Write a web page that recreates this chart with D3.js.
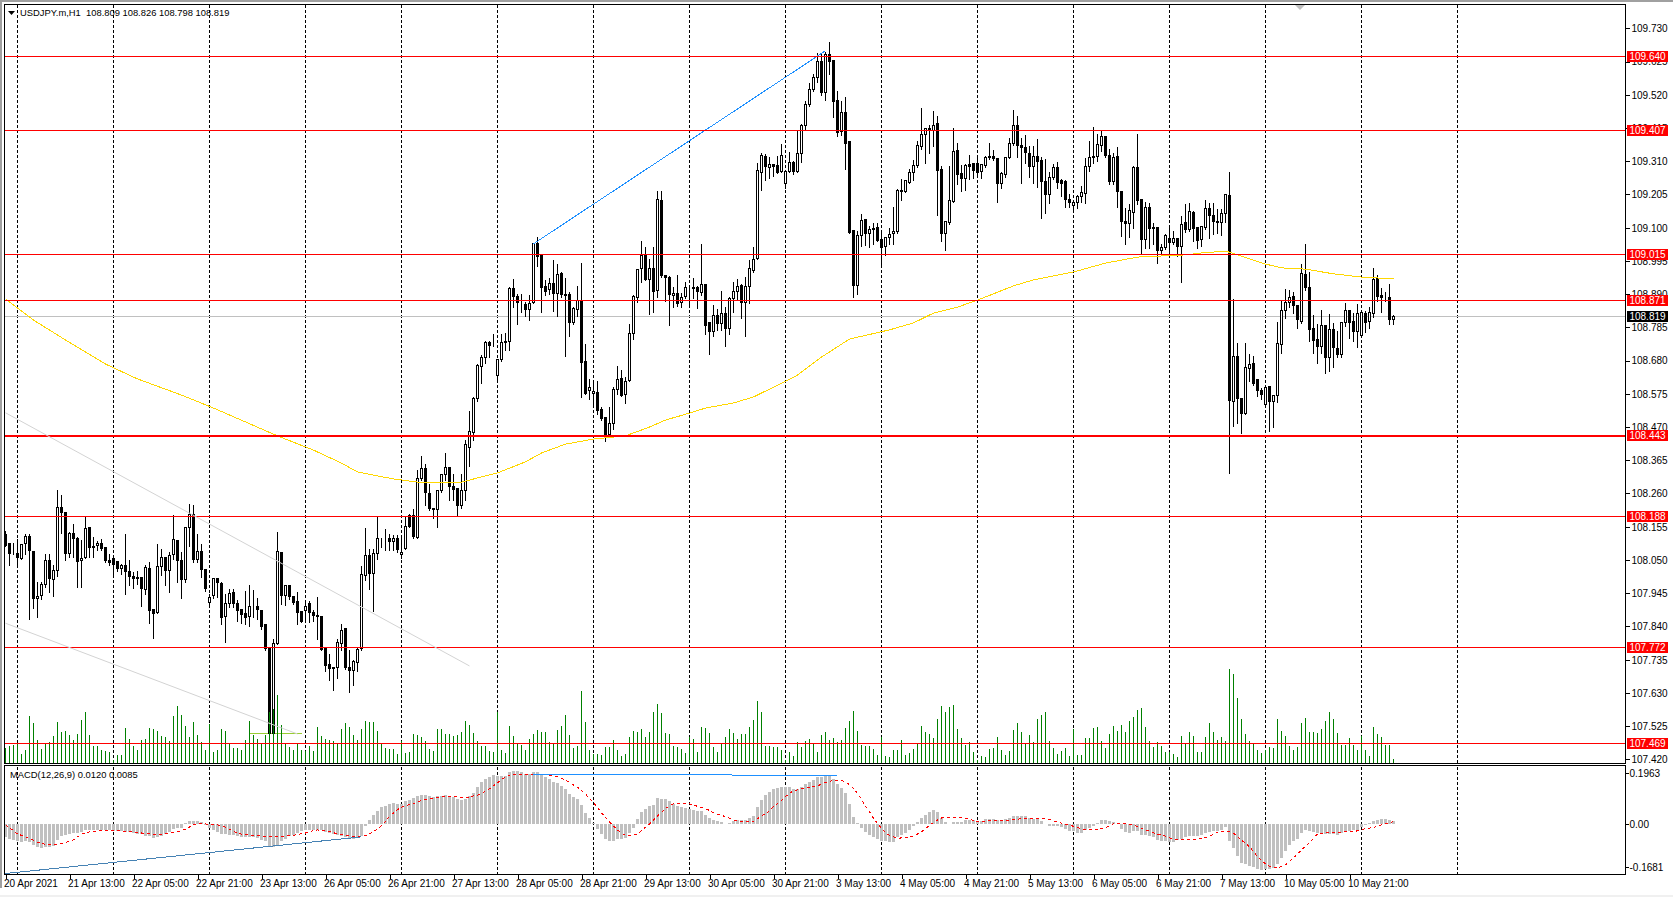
<!DOCTYPE html>
<html><head><meta charset="utf-8">
<script src="https://cdn.jsdelivr.net/npm/d3@7/dist/d3.min.js"></script>
<style>
html,body{margin:0;padding:0;background:#fff;overflow:hidden}
svg{display:block}
text{font-family:"Liberation Sans",Arial,sans-serif;font-size:10px;fill:#000}
text.head{font-size:9.4px}
</style></head><body>
<svg id="c" width="1673" height="897"></svg>
<script>
// ---------- data (open, high, low, close per hourly bar) ----------
const candlesA=[[108.129,108.142,108.097,108.097],[108.102,108.106,108.037,108.069],[108.071,108.105,108.069,108.070],[108.071,108.118,108.029,108.058],[108.055,108.103,108.055,108.099],[108.102,108.134,108.071,108.125],[108.125,108.134,107.865,108.079],[108.078,108.078,107.899,107.928],[107.928,107.982,107.871,107.934],[107.937,107.982,107.929,107.971],
[107.973,108.071,107.966,108.049],[108.049,108.071,107.950,107.990],[107.988,108.034,107.939,108.017],[108.017,108.273,108.000,108.216],[108.216,108.258,108.136,108.199],[108.201,108.201,108.052,108.070],[108.070,108.140,108.061,108.135],[108.135,108.166,108.061,108.117],[108.118,108.124,107.966,108.045],[108.049,108.115,107.966,108.055],
[108.057,108.187,108.057,108.150],[108.153,108.153,108.061,108.089],[108.093,108.124,108.061,108.089],[108.095,108.113,108.084,108.103],[108.103,108.118,108.084,108.086],[108.088,108.088,108.045,108.048],[108.049,108.071,108.036,108.041],[108.053,108.055,108.008,108.034],[108.046,108.046,108.018,108.022],[108.023,108.039,108.006,108.033],
[108.033,108.134,107.945,108.012],[108.014,108.050,107.971,107.997],[107.998,108.013,107.963,107.991],[107.995,108.016,107.976,107.991],[107.996,107.997,107.906,107.959],[107.957,108.034,107.945,108.025],[108.022,108.045,107.852,107.890],[107.892,107.894,107.805,107.881],[107.885,108.103,107.885,108.030],[108.030,108.087,108.003,108.058],
[108.058,108.058,107.971,108.016],[108.017,108.076,107.950,108.065],[108.067,108.194,108.055,108.115],[108.113,108.113,107.982,108.047],[108.047,108.076,107.931,107.988],[107.988,108.157,107.982,108.153],[108.153,108.227,108.097,108.194],[108.194,108.224,108.045,108.051],[108.051,108.134,108.045,108.076],[108.076,108.103,107.997,108.021]];
const candlesB=[[108.021,108.023,107.952,107.959],[107.915,107.945,107.903,107.932],[107.937,107.992,107.931,107.992],[107.992,107.992,107.936,107.978],[107.976,107.982,107.850,107.868],[107.871,107.945,107.792,107.913],[107.913,107.960,107.903,107.945],[107.948,107.960,107.903,107.913],[107.913,107.924,107.860,107.889],[107.892,107.894,107.853,107.877],
[107.881,107.952,107.850,107.868],[107.871,107.973,107.843,107.904],[107.904,107.955,107.871,107.903],[107.904,107.931,107.866,107.893],[107.891,107.892,107.834,107.839],[107.847,107.847,107.766,107.771],[107.771,107.771,107.491,107.502],[107.502,107.803,107.495,107.787],[107.787,108.140,107.787,108.078],[108.075,108.075,107.913,107.937],
[107.937,107.973,107.908,107.968],[107.968,107.971,107.929,107.933],[107.936,107.939,107.913,107.917],[107.919,107.950,107.848,107.884],[107.886,107.887,107.855,107.857],[107.890,107.924,107.860,107.904],[107.913,107.921,107.855,107.884],[107.883,107.892,107.858,107.874],[107.875,107.934,107.803,107.871],[107.870,107.870,107.766,107.768],
[107.770,107.771,107.700,107.715],[107.721,107.753,107.671,107.707],[107.711,107.711,107.639,107.707],[107.710,107.803,107.679,107.790],[107.786,107.848,107.766,107.828],[107.832,107.834,107.708,107.710],[107.711,107.766,107.634,107.700],[107.700,107.734,107.655,107.729],[107.727,107.776,107.700,107.766],[107.769,108.032,107.766,108.005],
[108.002,108.153,107.987,108.065],[108.065,108.087,107.960,108.006],[108.008,108.087,107.889,108.071],[108.071,108.187,108.055,108.118],[108.118,108.122,108.092,108.119],[108.118,108.148,108.084,108.119],[108.118,108.134,108.084,108.108],[108.108,108.129,108.082,108.118],[108.118,108.129,108.078,108.082],[108.067,108.129,108.058,108.073]];
const candlesC=[[108.085,108.192,108.085,108.156],[108.189,108.197,108.157,108.157],[108.190,108.213,108.122,108.123],[108.121,108.336,108.121,108.308],[108.306,108.379,108.303,108.340],[108.340,108.355,108.224,108.264],[108.261,108.292,108.208,108.211],[108.213,108.213,108.184,108.209],[108.210,108.268,108.155,108.268],[108.269,108.324,108.266,108.321],
[108.320,108.389,108.303,108.343],[108.343,108.343,108.242,108.282],[108.283,108.324,108.240,108.274],[108.276,108.276,108.195,108.222],[108.221,108.324,108.216,108.269],[108.269,108.431,108.240,108.416],[108.406,108.521,108.347,108.456],[108.453,108.566,108.430,108.561],[108.559,108.672,108.554,108.663],[108.661,108.698,108.611,108.691],
[108.691,108.742,108.674,108.738],[108.738,108.742,108.693,108.729],[108.729,108.766,108.727,108.729],[108.634,108.683,108.624,108.683],[108.683,108.766,108.680,108.737],[108.741,108.769,108.714,108.737],[108.741,108.914,108.714,108.909],[108.909,108.940,108.851,108.882],[108.883,108.893,108.796,108.863],[108.866,108.893,108.835,108.867],
[108.856,108.867,108.821,108.840],[108.840,108.888,108.809,108.861],[108.863,109.051,108.863,109.049],[109.049,109.072,108.979,109.009],[109.015,109.015,108.835,108.912],[108.915,108.935,108.888,108.898],[108.905,108.943,108.893,108.924],[108.922,108.998,108.838,108.892],[108.891,108.988,108.824,108.953],[108.954,108.961,108.882,108.888],
[108.890,108.943,108.695,108.886],[108.888,108.898,108.758,108.800],[108.800,108.851,108.796,108.843],[108.842,108.916,108.824,108.869],[108.869,108.991,108.566,108.674],[108.678,108.733,108.575,108.577],[108.586,108.624,108.561,108.596],[108.577,108.614,108.545,108.583],[108.580,108.616,108.512,108.522],[108.524,108.535,108.493,108.496]];
const candlesD=[[108.499,108.501,108.427,108.445],[108.445,108.535,108.440,108.482],[108.480,108.598,108.466,108.590],[108.590,108.663,108.577,108.621],[108.624,108.653,108.569,108.570],[108.573,108.630,108.548,108.613],[108.617,108.798,108.617,108.766],[108.766,108.888,108.751,108.883],[108.880,108.969,108.867,108.969],[108.971,109.060,108.930,109.013],
[109.014,109.042,108.935,108.937],[108.937,109.001,108.828,108.972],[108.972,109.040,108.835,108.898],[108.902,109.216,108.882,109.188],[109.185,109.216,108.946,108.949],[108.949,108.953,108.870,108.943],[108.943,108.949,108.793,108.888],[108.886,108.914,108.851,108.893],[108.893,108.951,108.853,108.859],[108.863,108.895,108.851,108.880],
[108.882,108.930,108.880,108.912],[108.910,108.916,108.851,108.911],[108.909,108.943,108.880,108.910],[108.912,108.916,108.849,108.898],[108.895,109.051,108.888,108.921],[108.921,108.921,108.764,108.791],[108.799,108.803,108.701,108.771],[108.771,108.856,108.758,108.823],[108.823,108.846,108.777,108.797],[108.797,108.900,108.779,108.829],
[108.830,108.851,108.727,108.781],[108.781,108.882,108.764,108.876],[108.876,108.929,108.835,108.899],[108.898,108.938,108.877,108.915],[108.918,108.924,108.815,108.862],[108.863,108.946,108.758,108.914],[108.914,109.000,108.863,108.972],[108.965,109.040,108.960,109.000],[109.003,109.306,109.003,109.280],[109.275,109.336,109.222,109.327],
[109.324,109.334,109.253,109.292],[109.290,109.324,109.259,109.301],[109.301,109.303,109.264,109.292],[109.295,109.327,109.275,109.275],[109.278,109.365,109.276,109.327],[109.239,109.277,109.228,109.277],[109.279,109.342,109.276,109.305],[109.306,109.313,109.270,109.279],[109.279,109.407,109.276,109.334],[109.334,109.428,109.310,109.422]];
const candlesE=[[109.422,109.502,109.409,109.488],[109.488,109.560,109.486,109.536],[109.536,109.586,109.534,109.574],[109.576,109.654,109.563,109.625],[109.626,109.649,109.521,109.526],[109.528,109.658,109.504,109.647],[109.647,109.688,109.588,109.626],[109.628,109.631,109.452,109.500],[109.502,109.534,109.391,109.402],[109.404,109.502,109.395,109.463],
[109.465,109.515,109.288,109.367],[109.373,109.376,109.085,109.086],[109.091,109.095,108.883,108.918],[108.918,109.091,108.891,109.076],[109.074,109.146,109.044,109.123],[109.126,109.126,109.047,109.083],[109.083,109.107,109.039,109.094],[109.097,109.115,109.049,109.093],[109.100,109.115,109.058,109.060],[109.063,109.086,108.981,109.038],
[109.041,109.070,109.016,109.068],[109.068,109.102,109.049,109.078],[109.081,109.167,109.049,109.088],[109.089,109.224,109.086,109.218],[109.217,109.255,109.189,109.213],[109.215,109.249,109.213,109.249],[109.244,109.286,109.244,109.274],[109.273,109.315,109.251,109.296],[109.296,109.374,109.294,109.359],[109.358,109.479,109.349,109.394],
[109.394,109.418,109.307,109.413],[109.410,109.425,109.339,109.412],[109.407,109.471,109.360,109.422],[109.428,109.455,109.142,109.281],[109.283,109.297,109.058,109.083],[109.083,109.123,109.032,109.119],[109.116,109.297,109.112,109.185],[109.184,109.416,109.184,109.340],[109.343,109.370,109.241,109.268],[109.270,109.299,109.216,109.256],
[109.256,109.302,109.220,109.296],[109.299,109.331,109.255,109.294],[109.302,109.302,109.257,109.281],[109.302,109.328,109.268,109.273],[109.276,109.302,109.258,109.299],[109.296,109.327,109.294,109.323],[109.324,109.368,109.320,109.321],[109.324,109.347,109.315,109.318],[109.318,109.318,109.183,109.238],[109.238,109.276,109.228,109.270]];
const candlesF=[[109.267,109.325,109.263,109.322],[109.322,109.386,109.321,109.365],[109.365,109.473,109.362,109.422],[109.422,109.455,109.325,109.359],[109.360,109.386,109.244,109.353],[109.354,109.395,109.307,109.336],[109.334,109.360,109.263,109.292],[109.292,109.360,109.244,109.325],[109.325,109.383,109.231,109.310],[109.312,109.325,109.133,109.246],
[109.246,109.318,109.149,109.206],[109.206,109.276,109.181,109.260],[109.259,109.304,109.255,109.290],[109.290,109.310,109.228,109.243],[109.249,109.255,109.202,109.241],[109.245,109.253,109.167,109.189],[109.189,109.207,109.167,109.181],[109.171,109.188,109.152,109.179],[109.181,109.205,109.163,109.199],[109.198,109.234,109.184,109.210],
[109.209,109.321,109.178,109.294],[109.292,109.376,109.281,109.321],[109.326,109.420,109.307,109.321],[109.325,109.397,109.313,109.363],[109.360,109.409,109.344,109.387],[109.388,109.391,109.325,109.327],[109.327,109.351,109.241,109.246],[109.247,109.339,109.239,109.323],[109.325,109.357,109.168,109.213],[109.214,109.214,109.076,109.118],
[109.120,109.165,109.049,109.112],[109.112,109.176,109.073,109.154],[109.149,109.297,109.102,109.290],[109.290,109.397,109.176,109.186],[109.189,109.189,109.023,109.063],[109.063,109.183,109.036,109.164],[109.164,109.178,109.036,109.096],[109.101,109.115,109.049,109.096],[109.100,109.100,108.991,109.028],[109.028,109.049,109.023,109.037],
[109.036,109.081,109.035,109.076],[109.065,109.102,109.016,109.054],[109.054,109.091,109.049,109.065],[109.065,109.068,109.012,109.041]];
const candlesG=[[109.042,109.139,108.929,109.110],[109.116,109.176,109.087,109.093],[109.093,109.179,109.090,109.151],[109.149,109.155,109.060,109.096],[109.100,109.102,109.036,109.060],[109.064,109.108,109.044,109.105],[109.102,109.189,109.097,109.159],[109.160,109.181,109.068,109.137],[109.138,109.181,109.083,109.118],[109.120,109.160,109.084,109.115],
[109.115,109.162,109.079,109.145],[109.145,109.205,109.118,109.205],[109.202,109.278,108.325,108.553],[108.551,108.876,108.476,108.693],[108.694,108.737,108.483,108.559],[108.560,108.560,108.452,108.512],[108.512,108.737,108.512,108.658],[108.654,108.702,108.618,108.668],[108.671,108.696,108.605,108.607],[108.620,108.620,108.571,108.584],
[108.585,108.595,108.560,108.574],[108.540,108.600,108.539,108.595],[108.598,108.602,108.458,108.550],[108.551,108.574,108.473,108.571],[108.569,108.804,108.550,108.734],[108.731,108.869,108.704,108.838],[108.838,108.908,108.815,108.863],[108.862,108.904,108.850,108.879],[108.882,108.897,108.831,108.853],[108.855,108.855,108.786,108.809],
[108.802,108.987,108.799,108.955],[108.952,109.050,108.904,108.912],[108.912,108.962,108.744,108.777],[108.781,108.826,108.704,108.745],[108.748,108.797,108.673,108.723],[108.723,108.842,108.705,108.791],[108.792,108.792,108.641,108.689],[108.689,108.829,108.650,108.779],[108.779,108.799,108.662,108.720],[108.718,108.776,108.692,108.698],
[108.698,108.802,108.694,108.800],[108.799,108.864,108.790,108.838],[108.839,108.839,108.752,108.799],[108.803,108.831,108.744,108.771],[108.771,108.860,108.726,108.830],[108.758,108.839,108.755,108.832],[108.830,108.837,108.771,108.801],[108.805,108.850,108.784,108.832],[108.829,108.974,108.818,108.937],[108.939,108.952,108.871,108.884],
[108.887,108.912,108.836,108.878],[108.879,108.897,108.869,108.880],[108.880,108.924,108.797,108.809],[108.809,108.826,108.798,108.819]];
// tick volume per bar
const volumes=[45,50,53,57,28,40,142,121,70,43,60,62,80,124,94,96,85,70,87,130,152,85,50,52,40,35,33,10,25,25,106,72,50,40,70,73,105,102,95,82,78,65,142,170,145,110,78,124,85,62,38,118,32,38,102,95,60,44,45,38,68,125,85,72,60,85,154,162,204,115,60,47,40,57,40,35,50,35,107,80,73,70,67,60,103,119,107,85,68,103,125,122,123,95,58,45,42,42,28,65,30,32,88,85,77,65,43,35,103,103,88,87,80,83,92,125,115,90,65,52,52,37,32,153,40,30,110,82,60,55,40,72,88,100,93,92,62,60,100,
111,144,84,45,51,216,123,39,27,27,24,48,48,69,39,21,27,78,96,93,102,78,93,153,177,150,90,87,51,48,42,30,78,72,33,108,105,90,48,33,57,78,102,90,72,87,87,108,129,186,153,51,51,48,48,39,9,33,21,63,48,66,72,57,33,84,93,69,75,63,69,105,126,156,96,54,51,51,42,24,79,21,18,39,39,69,24,30,42,60,111,93,87,75,132,171,153,168,174,102,75,54,63,33,10,
22,19,43,46,79,40,25,37,100,121,94,61,85,64,133,145,154,67,46,28,37,46,22,103,25,25,76,76,106,109,67,46,88,112,97,115,94,127,139,160,166,109,67,49,64,52,34,34,28,19,82,61,94,82,34,34,79,121,94,70,79,67,283,268,196,133,88,67,60,40,31,40,49,46,133,97,82,52,40,49,121,136,94,94,91,103,127,154,133,91,55,55,76,55,40,82,40,22,109,88,79,55,55,13];
// MACD histogram and signal, in thousandths
const macdMain=[-51,-59,-64,-68,-71,-68,-72,-82,-91,-92,-90,-89,-85,-62,-46,-45,-41,-37,-35,-33,-26,-23,-23,-23,-24,-24,-26,-27,-27,-28,-31,-33,-36,-39,-41,-46,-49,-55,-51,-46,-39,-31,-21,-17,-15,3,12,12,12,5,-4,-17,-23,-33,-39,-40,-42,-45,-49,-51,-51,-53,-53,-54,-62,-68,-87,-90,-82,-68,-58,-49,-42,-36,-30,-24,-23,-23,-24,-26,-32,-36,-40,-42,-46,-51,-56,-59,-55,-46,-10,15,35,47,64,69,76,80,76,76,86,92,99,108,112,112,105,103,105,108,112,108,103,96,90,96,105,118,141,159,172,180,189,185,185,185,198,204,204,198,193,193,199,198,189,180,172,159,157,
145,134,114,104,95,72,41,22,3,-19,-39,-58,-67,-67,-59,-58,-54,-35,-15,18,45,56,68,72,99,96,95,87,76,68,64,60,56,53,49,49,33,22,14,10,6,-3,3,10,14,14,14,22,30,64,91,110,122,134,139,141,141,141,132,134,141,153,161,168,180,180,184,187,172,153,137,118,76,26,3,-17,-32,-44,-51,-59,-67,-68,-71,-69,-50,-44,-36,-24,-9,6,22,33,45,53,45,22,6,-3,6,6,6,13,14,14,10,
10,18,18,18,14,10,18,22,30,30,30,30,22,18,18,10,-3,-8,-8,-9,-13,-21,-28,-28,-36,-36,-24,-17,-9,4,14,14,10,8,0,-21,-32,-36,-28,-28,-44,-44,-48,-51,-63,-67,-67,-71,-71,-63,-59,-51,-48,-48,-46,-44,-36,-32,-28,-28,-24,-13,-67,-94,-125,-152,-155,-163,-167,-175,-178,-175,-175,-171,-155,-132,-105,-82,-67,-59,-36,-24,-28,-32,-36,-40,-40,-40,-40,-44,-37,-31,-27,-24,-23,-12,-4,1,10,15,18,18,14,12];
const macdSignal=[-4,-17,-27,-40,-45,-51,-58,-64,-72,-76,-80,-81,-81,-80,-76,-74,-67,-62,-51,-40,-36,-32,-30,-27,-26,-26,-26,-26,-27,-28,-30,-31,-32,-33,-36,-37,-39,-41,-42,-41,-39,-36,-33,-30,-27,-21,-13,-5,-1,0,-1,-3,-3,-5,-8,-13,-21,-30,-36,-40,-42,-44,-45,-46,-48,-50,-51,-51,-51,-50,-49,-46,-45,-42,-39,-36,-31,-26,-24,-26,-28,-31,-35,-39,-41,-45,-48,-50,-51,-50,-46,-39,-30,-21,-8,9,28,41,54,63,69,74,78,83,89,92,95,98,100,103,105,104,104,103,100,99,101,107,109,116,125,134,146,157,170,180,186,189,190,191,191,191,191,190,189,189,186,182,180,
175,168,159,149,140,127,114,96,81,63,42,24,6,-9,-24,-37,-45,-47,-45,-39,-27,-14,-1,14,30,44,58,69,76,77,77,77,76,71,67,63,58,51,42,37,32,27,21,14,10,9,9,9,9,19,30,37,50,65,78,89,104,117,127,130,134,136,140,144,145,153,159,163,166,167,167,161,150,136,117,94,68,46,21,1,-18,-35,-45,-51,-56,-55,-54,-53,-47,-40,-32,-19,-6,4,14,22,24,24,24,24,23,21,17,12,8,
9,10,12,13,13,13,14,14,15,17,19,19,19,19,19,19,19,17,10,8,1,-3,-6,-10,-15,-21,-23,-23,-22,-21,-18,-15,-9,0,1,0,-1,-3,-4,-12,-18,-24,-28,-35,-40,-44,-48,-55,-59,-62,-62,-60,-60,-60,-59,-58,-53,-48,-40,-33,-30,-28,-31,-37,-50,-63,-76,-89,-108,-127,-143,-155,-164,-169,-171,-164,-159,-145,-131,-117,-101,-87,-73,-56,-40,-37,-36,-35,-35,-33,-32,-32,-32,-32,-27,-24,-18,-17,-15,-10,-5,-1,3,8];
// 200-period moving average
const maBars=[0,7,15,25,33,44,52,68,77,84,88,92,97,103,114,118,123,130,134,140,147,155,161,165,171,175,182,187,192,198,204,211,221,227,232,238,243,252,257,267,275,283,288,295,299,305,308,315,319,325,332,339,347];
const maValues=[108.875,108.808,108.745,108.669,108.622,108.571,108.530,108.442,108.397,108.356,108.328,108.318,108.306,108.296,108.296,108.309,108.325,108.360,108.388,108.416,108.432,108.442,108.470,108.492,108.514,108.530,108.546,108.565,108.596,108.634,108.691,108.748,108.777,108.799,108.830,108.849,108.871,108.916,108.935,108.960,108.988,109.007,109.010,109.014,109.020,109.026,109.014,108.985,108.973,108.969,108.954,108.944,108.938];
const levels=[109.640,109.407,109.015,108.871,108.443,108.188,107.772,107.469];
const priceTicks=[109.730,109.625,109.520,109.415,109.310,109.205,109.100,108.995,108.890,108.785,108.680,108.575,108.470,108.365,108.260,108.155,108.050,107.945,107.840,107.735,107.630,107.525,107.420];
const timeLabels=["20 Apr 2021","21 Apr 13:00","22 Apr 05:00","22 Apr 21:00","23 Apr 13:00","26 Apr 05:00","26 Apr 21:00","27 Apr 13:00","28 Apr 05:00","28 Apr 21:00","29 Apr 13:00","30 Apr 05:00","30 Apr 21:00","3 May 13:00","4 May 05:00","4 May 21:00","5 May 13:00","6 May 05:00","6 May 21:00","7 May 13:00","10 May 05:00","10 May 21:00"];
const lastPrice=108.819;
const header="USDJPY.m,H1  108.809 108.826 108.798 108.819";
const macdHeader="MACD(12,26,9) 0.0120 0.0085";
const macdTicks=[[196.3,"0.1963"],[0,"0.00"],[-168.1,"-0.1681"]];
const candles=[...candlesA,...candlesB,...candlesC,...candlesD,...candlesE,...candlesF,...candlesG];

// ---------- scales ----------
const L=4.5,R=1625.5,T=4.5,B=763.5,MT=766.5,MB=874.5;
const x=d3.scaleLinear().domain([0,347]).range([5.5,1393.5]);
const y=d3.scaleLinear().domain([107.42,109.73]).range([759.3,28.3]);
const yVol=d3.scaleLinear().domain([0,300]).range([763,663]);
const yMacd=d3.scaleLinear().domain([-168.1,196.3]).range([867.3,772.7]);
const snap=v=>Math.round(v-0.5)+0.5;

const svg=d3.select("#c");
svg.append("rect").attr("width",1673).attr("height",897).attr("fill","#fff");
// window chrome
svg.append("rect").attr("width",1673).attr("height",2).attr("fill","#a0a0a0");
svg.append("rect").attr("width",2).attr("height",888).attr("fill","#a0a0a0");
svg.append("rect").attr("y",895).attr("width",1673).attr("height",2).attr("fill","#f0f0f0");

const crisp=svg.append("g").attr("shape-rendering","crispEdges");
// daily grid
const gridBars=d3.range(3,364,24);
[[T,B],[MT,MB]].forEach(([a,b])=>{
 crisp.append("g").selectAll("line").data(gridBars).join("line")
  .attr("x1",x).attr("x2",x).attr("y1",a).attr("y2",b)
  .attr("stroke","#000").attr("stroke-dasharray","3,2");
});
// light channels
const thin=svg.append("g").attr("fill","none");
const chanA=[[0,108.515,],[116,107.715]], chanB=[[0,107.85],[73,107.5]];
[chanA,chanB].forEach(c=>thin.append("line")
  .attr("x1",x(c[0][0])).attr("y1",y(c[0][1])).attr("x2",x(c[1][0])).attr("y2",y(c[1][1]))
  .attr("stroke","#d3d3d3"));
crisp.append("line").attr("x1",x(61)).attr("x2",x(74)).attr("y1",snap(y(107.502))).attr("y2",snap(y(107.502))).attr("stroke","#9acd32");

// current price line
crisp.append("line").attr("x1",L).attr("x2",R).attr("y1",snap(y(lastPrice))).attr("y2",snap(y(lastPrice))).attr("stroke","#c0c0c0");

// candles
const cg=crisp.append("g");
cg.selectAll("line").data(candles).join("line")
 .attr("x1",(d,i)=>x(i)).attr("x2",(d,i)=>x(i))
 .attr("y1",d=>snap(y(d[1]))).attr("y2",d=>snap(y(d[2]))+1).attr("stroke","#000");
cg.selectAll("rect").data(candles).join("rect")
 .attr("x",(d,i)=>x(i)-1)
 .attr("width",2)
 .attr("y",d=>snap(y(Math.max(d[0],d[3]))))
 .attr("height",d=>Math.max(0,snap(y(Math.min(d[0],d[3])))-snap(y(Math.max(d[0],d[3])))))
 .attr("fill",d=>d[3]>=d[0]?"#fff":"#000").attr("stroke","#000");

// volumes
crisp.append("g").selectAll("line").data(volumes).join("line")
 .attr("x1",(d,i)=>x(i)).attr("x2",(d,i)=>x(i))
 .attr("y1",yVol(0)).attr("y2",d=>yVol(d)).attr("stroke","#008000");

// moving average
crisp.append("path").datum(maBars.map((b,i)=>[b,maValues[i]]))
 .attr("fill","none").attr("stroke","#ffd700").attr("stroke-width",1)
 .attr("d",d3.line().x(d=>x(d[0])).y(d=>y(d[1])));

// trend line on price
crisp.append("line").attr("x1",x(132)).attr("y1",y(109.049)).attr("x2",x(205)).attr("y2",y(109.659)).attr("stroke","#1e90ff");

// horizontal levels
crisp.append("g").selectAll("line").data(levels).join("line")
 .attr("x1",L).attr("x2",R).attr("y1",d=>snap(y(d))).attr("y2",d=>snap(y(d)))
 .attr("stroke","#f00").attr("stroke-width",d=>d===108.443?2:1);

// MACD pane
crisp.append("g").selectAll("rect").data(macdMain).join("rect")
 .attr("x",(d,i)=>x(i)-1.5).attr("width",3)
 .attr("y",d=>yMacd(Math.max(d,0))).attr("height",d=>Math.abs(yMacd(d)-yMacd(0)))
 .attr("fill","#c0c0c0");
crisp.append("path").datum(macdSignal).attr("fill","none").attr("stroke","#f00").attr("stroke-dasharray","3,3")
 .attr("d",d3.line().x((d,i)=>x(i)).y(d=>yMacd(d)));
crisp.append("line").attr("x1",x(0)).attr("y1",yMacd(-192)).attr("x2",x(89)).attr("y2",yMacd(-51)).attr("stroke","#4682b4");
crisp.append("line").attr("x1",x(132)).attr("y1",yMacd(190)).attr("x2",x(208)).attr("y2",yMacd(186)).attr("stroke","#1e90ff");

// frames
const fr=crisp.append("g").attr("fill","none").attr("stroke","#000");
fr.append("rect").attr("x",L).attr("y",T).attr("width",R-L).attr("height",B-T);
fr.append("rect").attr("x",L).attr("y",MT-1).attr("width",R-L).attr("height",MB-MT+1);

// axes
const ax=d3.axisRight(y).tickValues(priceTicks).tickFormat(d3.format(".3f")).tickSize(4).tickSizeOuter(0).tickPadding(2);
const gy=svg.append("g").attr("transform",`translate(${R},0)`).attr("shape-rendering","crispEdges").call(ax);
gy.select(".domain").remove();
gy.selectAll("text").attr("dy","0.34em");
gy.attr("font-size",null).attr("font-family",null);

const am=d3.axisRight(yMacd).tickValues(macdTicks.map(d=>d[0])).tickFormat((d,i)=>macdTicks[i][1]).tickSize(3).tickPadding(1);
const gm=svg.append("g").attr("transform",`translate(${R},0)`).attr("shape-rendering","crispEdges").call(am);
gm.select(".domain").remove();
gm.attr("font-size",null).attr("font-family",null);
gm.selectAll("text").attr("dy","0.34em");

const at=d3.axisBottom(x).tickValues(timeLabels.map((d,i)=>i*16)).tickFormat((d,i)=>timeLabels[i]).tickSize(4).tickPadding(2);
const gx=svg.append("g").attr("transform",`translate(0,${MB})`).attr("shape-rendering","crispEdges").call(at);
gx.select(".domain").remove();
gx.attr("font-size",null).attr("font-family",null);
gx.selectAll("text").attr("text-anchor","start").attr("x",-2).attr("y",5).attr("dy","0.71em");

// level labels
const tags=svg.append("g").selectAll("g").data(levels).join("g").attr("transform",d=>`translate(0,${snap(y(d))})`);
tags.append("rect").attr("x",1627).attr("y",-6).attr("width",41).attr("height",11).attr("fill","#f00").attr("shape-rendering","crispEdges");
tags.append("text").attr("x",1647.5).attr("text-anchor","middle").attr("dy","0.3em").style("fill","#fff").text(d=>d3.format(".3f")(d));
const lp=svg.append("g").attr("transform",`translate(0,${snap(y(lastPrice))})`);
lp.append("rect").attr("x",1627).attr("y",-6).attr("width",41).attr("height",11).attr("fill","#000").attr("shape-rendering","crispEdges");
lp.append("text").attr("x",1647.5).attr("text-anchor","middle").attr("dy","0.3em").style("fill","#fff").text(d3.format(".3f")(lastPrice));

// header + markers
svg.append("path").attr("d",d3.line()([[8,11],[15,11],[11.5,15]])).attr("fill","#000");
svg.append("path").attr("d",d3.line()([[1295,5],[1305,5],[1300,10]])).attr("fill","#c0c0c0");
svg.append("text").attr("class","head").attr("x",20).attr("y",16).attr("xml:space","preserve").style("white-space","pre").text(header);
svg.append("text").attr("class","head").attr("x",10).attr("y",778).text(macdHeader);
</script>
</body></html>
